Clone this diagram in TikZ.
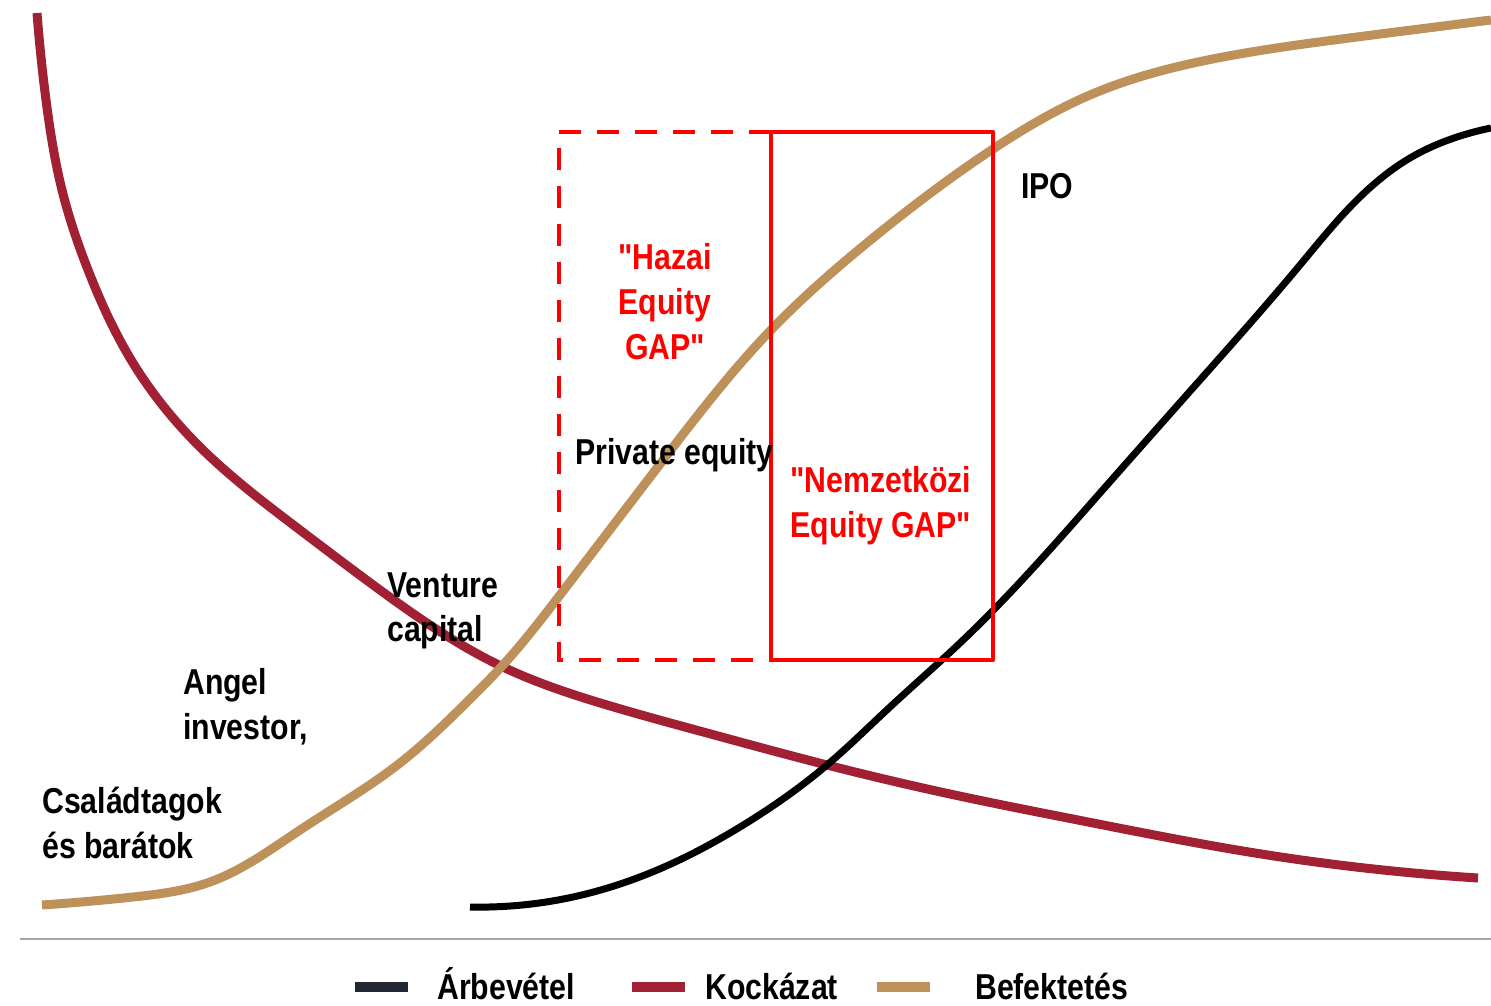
\documentclass[tikz,border=0pt]{standalone}
\usepackage{fontspec}
\setmainfont{Liberation Sans}[FakeStretch=0.84, Ligatures=TeXOff]
\usetikzlibrary{hobby}
\definecolor{riskred}{HTML}{A22034}
\definecolor{invgold}{HTML}{BE915A}
\definecolor{revdark}{HTML}{222833}
\definecolor{gapred}{HTML}{FF0000}
\begin{document}
\begin{tikzpicture}[x=1pt,y=-1pt,
  lbl/.style={inner sep=0pt, font=\fontsize{36}{45}\selectfont\bfseries},
  gaplbl/.style={lbl, text=gapred},
  curve/.style={line width=9pt, line cap=butt, use Hobby shortcut},
  swatch/.style={line width=10pt}]
\useasboundingbox (0,0) rectangle (1491,1006);
% Kockazat (risk)
\draw[curve, riskred] (37,13) .. (46,100) .. (62,190) .. (90,275) .. (133,363) .. (200,447) .. (300,530) .. (380,590) .. (503,667) .. (607,705) .. (707,733) .. (827,765) .. (950,794) .. (1083,821) .. (1255,853) .. (1478,878);
% Befektetes (investment)
\draw[curve, invgold] (42,905) .. (133,897) .. (210,882) .. (300,830) .. (400,763) .. (467,702) .. (503,665) .. (560,595) .. (667,455) .. (770,331) .. (873,238) .. (993,149) .. (1090,95) .. (1223,57) .. (1357,37) .. (1491,20);
% Arbevetel (revenue)
\draw[line width=7pt, black, use Hobby shortcut] (470,907) .. (573,897) .. (673,863) .. (740,827) .. (827,765) .. (890,707) .. (960,643) .. (1100,493) .. (1200,380) .. (1300,265) .. (1360,197) .. (1410,158) .. (1457,137) .. (1491,128);
% gap boxes
\draw[gapred, line width=4pt, dash pattern=on 22pt off 16pt] (771,132) -- (559,132) -- (559,660) -- (771,660);
\draw[gapred, line width=4pt, line join=round] (771,132) rectangle (993,660);
% labels
\node[gaplbl, anchor=base] (hz1) at (665,269) {"Hazai};
\node[gaplbl, anchor=base] (hz2) at (665,314) {Equity};
\node[gaplbl, anchor=base] (hz3) at (665,359) {GAP"};
\node[gaplbl, anchor=base] (nk1) at (881,492) {"Nemzetközi};
\node[gaplbl, anchor=base] (nk2) at (881,537) {Equity GAP"};
\node[lbl, anchor=base west] (pe) at (575,464) {Private equity};
\node[lbl, anchor=base west] (ipo) at (1021,198) {IPO};
\node[lbl, anchor=base west] (vc1) at (387,597) {Venture};
\node[lbl, anchor=base west] (vc2) at (387,641) {capital};
\node[lbl, anchor=base west] (an1) at (183,694) {Angel};
\node[lbl, anchor=base west] (an2) at (183,739) {investor,};
\node[lbl, anchor=base west] (cs1) at (42,813) {Családtagok};
\node[lbl, anchor=base west] (cs2) at (42,858) {és barátok};
% separator
\draw[gray!70, line width=1.5pt] (20,939) -- (1491,939);
% legend
\draw[swatch, revdark] (355,987) -- (408,987);
\node[lbl, anchor=base west] (lg1) at (437,999) {Árbevétel};
\draw[swatch, riskred] (632,987) -- (685,987);
\node[lbl, anchor=base west] (lg2) at (705,999) {Kockázat};
\draw[swatch, invgold] (877,987) -- (930,987);
\node[lbl, anchor=base west] (lg3) at (975,999) {Befektetés};
\end{tikzpicture}
\end{document}
